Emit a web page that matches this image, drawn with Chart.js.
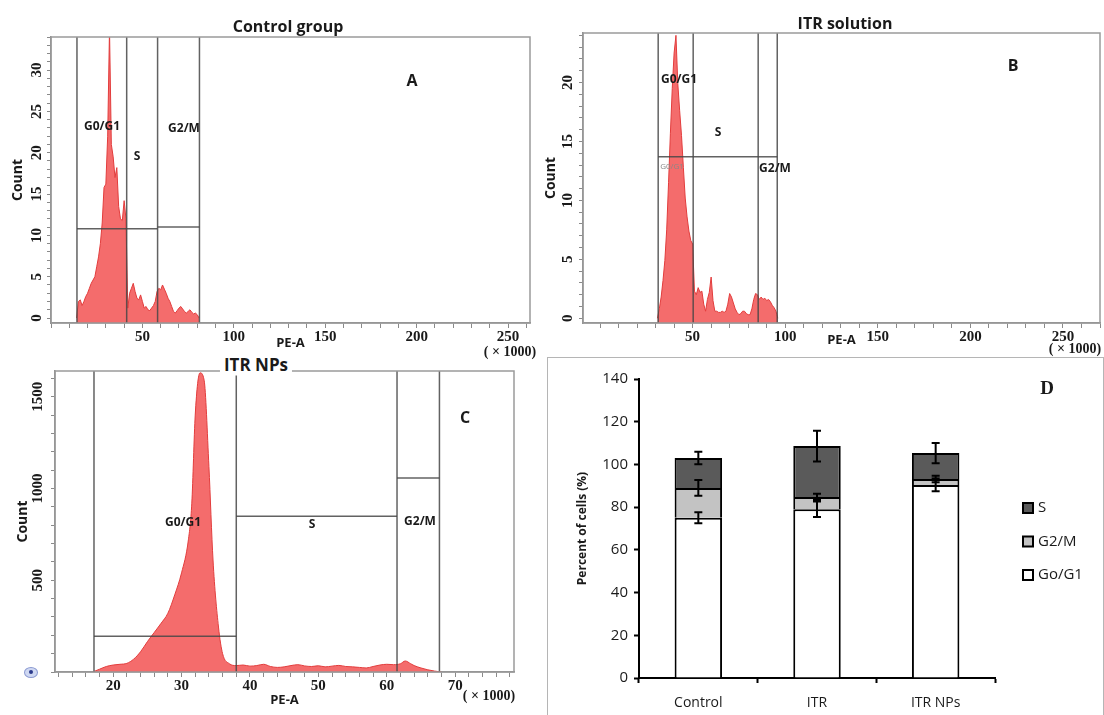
<!DOCTYPE html>
<html>
<head>
<meta charset="utf-8">
<script src="https://cdn.jsdelivr.net/npm/chart.js@4.4.1/dist/chart.umd.min.js"></script>
<style>
  body { margin: 0; width: 1104px; height: 715px; overflow: hidden; position: relative; background: #fff; }
  canvas { position: absolute; }
  .lbl { position: absolute; transform: translate(-50%, -50%); white-space: nowrap; color: #1a1a1a;
         font-family: "Open Sans", sans-serif; font-weight: bold; font-size: 12px; }
  .ttl { font-size: 16px; }
  .num { font-family: "Liberation Serif", serif; font-size: 14px; }
  #boxD { position: absolute; left: 547px; top: 357px; width: 555px; height: 380px; border: 1px solid #b5b5b5; }
  #dot { position: absolute; left: 24px; top: 667px; width: 12px; height: 9px; border-radius: 50%;
         background: #cfd8f2; border: 1px solid #8c9bd2; }
  #dot:after { content: ""; position: absolute; left: 4px; top: 2px; width: 4px; height: 4px; border-radius: 50%; background: #2b3a8c; }
</style>
</head>
<body>
<div id="boxD"></div>
<canvas id="histA" width="540" height="360" style="left:0;top:0"></canvas>
<canvas id="histB" width="564" height="360" style="left:540px;top:0"></canvas>
<canvas id="histC" width="547" height="357" style="left:0;top:358px"></canvas>
<canvas id="barsD" width="557" height="360" style="left:547px;top:355px"></canvas>
<div id="dot"></div>

<div class="lbl ttl" style="left:288px;top:26px">Control group</div>
<div class="lbl ttl" style="left:412px;top:80px">A</div>
<div class="lbl" style="left:102px;top:125px">G0/G1</div>
<div class="lbl" style="left:137px;top:155px">S</div>
<div class="lbl" style="left:184px;top:127px">G2/M</div>
<div class="lbl num" style="left:510px;top:352px">( × 1000)</div>

<div class="lbl ttl" style="left:845px;top:23px">ITR solution</div>
<div class="lbl ttl" style="left:1013px;top:65px">B</div>
<div class="lbl" style="left:679px;top:78px">G0/G1</div>
<div class="lbl" style="left:718px;top:131px">S</div>
<div class="lbl" style="left:775px;top:167px">G2/M</div>
<div class="lbl" style="left:672px;top:165px;font-size:8px;font-weight:normal;color:#888">G0/G1</div>
<div class="lbl num" style="left:1075px;top:349px">( × 1000)</div>

<div class="lbl ttl" style="left:256px;top:364px;font-size:17px;background:#fff;padding:0 4px">ITR NPs</div>
<div class="lbl ttl" style="left:465px;top:417px">C</div>
<div class="lbl" style="left:183px;top:521px">G0/G1</div>
<div class="lbl" style="left:312px;top:523px">S</div>
<div class="lbl" style="left:420px;top:520px">G2/M</div>
<div class="lbl num" style="left:489px;top:696px">( × 1000)</div>

<div class="lbl" style="left:1047px;top:388px;font-family:'Liberation Serif',serif;font-size:19px">D</div>

<script>
Chart.defaults.font.family = '"Open Sans", sans-serif';
Chart.defaults.color = '#1a1a1a';

// A - control group histogram (PE-A x1000, count)
const xA = [14, 15, 16, 17, 18, 19, 20, 21, 22, 23, 24, 25, 26, 27, 28, 29, 30, 31, 32, 33, 34, 35, 36, 37, 38, 39, 40, 41,
    42, 43, 44, 45, 46, 47, 48, 49, 50, 51, 52, 53, 54, 55, 56, 57, 58, 59, 60, 61, 62, 63, 64, 65, 66, 67, 68, 69, 70,
    71, 72, 73, 74, 75, 76, 77, 78, 79, 80, 81];
const countA = [0, 2.0, 2.2, 1.5, 2.0, 2.6, 3.0, 3.6, 4.2, 4.6, 5.0, 6.2, 7.4, 9.0, 11.5, 15.8, 16.2, 22.0, 35.0, 21.0,
    19.5, 17.0, 18.2, 13.5, 12.0, 11.8, 14.2, 12.0, 1.2, 3.0, 3.6, 4.2, 3.2, 2.4, 2.2, 2.8, 2.0, 1.2, 1.4, 1.0, 0.9, 1.2,
    1.5, 2.0, 3.2, 3.6, 3.4, 4.0, 3.5, 3.0, 2.4, 2.0, 1.4, 0.8, 0.6, 0.9, 1.2, 1.4, 1.1, 0.8, 0.6, 0.8, 1.0, 0.7, 0.5,
    0.6, 0.4, 0];
const gatesA = [14.2, 41.4, 58.3, 81.2];
const levelsA = [10.8, 10.8, 11];

// B - ITR solution histogram
const xB = [31, 32, 33, 34, 35, 36, 37, 38, 39, 40, 41, 42, 43, 44, 45, 46, 47, 48, 49, 50, 51, 52, 53, 54, 55, 56, 57,
    58, 59, 60, 61, 62, 63, 64, 65, 66, 67, 68, 69, 70, 71, 72, 73, 74, 75, 76, 77, 78, 79, 80, 81, 82, 83, 84, 85, 86,
    87, 88, 89, 90, 91, 92, 93, 94, 95, 96];
const countB = [0, 0.8, 1.8, 3.2, 4.9, 7.5, 11.5, 15.7, 19.5, 22.5, 24.0, 19.9, 17.6, 15.5, 12.8, 10.2, 8.6, 7.4, 6.6,
    6.3, 2.3, 2.0, 2.6, 2.2, 2.3, 1.2, 0.6, 1.6, 2.2, 3.5, 1.5, 0.6, 0.6, 0.5, 0.5, 0.6, 0.5, 0.6, 1.2, 2.1, 1.8, 1.3,
    0.8, 0.5, 0.3, 0.4, 0.6, 0.6, 0.4, 0.3, 0.3, 0.8, 1.6, 2.1, 2.0, 1.6, 1.8, 1.6, 1.7, 1.5, 1.6, 1.4, 1.1, 0.9, 0.6, 0];
const gatesB = [31.4, 50.3, 85.4, 95.7];
const levelsB = [13.7, 13.7, 13.7];

// C - ITR NPs histogram
const xC = [17, 18, 19, 20, 21, 22, 23, 24, 25, 26, 27, 28, 29, 30, 31, 31.5, 32, 32.7, 33.3, 34, 34.6, 35.4, 36, 37,
    38, 39, 40, 41, 42, 43, 44, 45, 46, 47, 48, 49, 50, 51, 52, 53, 54, 55, 56, 57, 58, 59, 60, 61, 62, 62.7, 63.5, 64,
    65, 66, 67, 68];
const countC = [0, 15, 30, 38, 42, 47, 70, 110, 165, 215, 265, 320, 420, 540, 720, 920, 1400, 1630, 1590, 1120, 610,
    245, 100, 45, 35, 38, 32, 35, 42, 30, 25, 28, 35, 40, 33, 30, 34, 28, 32, 36, 30, 28, 25, 22, 30, 38, 42, 40, 45,
    60, 45, 35, 22, 12, 5, 0];
const gatesC = [17.2, 38.0, 61.5, 67.7];
const levelsC = [195, 849, 1057];

// D - cell cycle distribution (%)
const groups = ['Control', 'ITR', 'ITR NPs'];
const g0g1Pct = [75, 79, 90.4];
const g2mPct = [14, 5.8, 2.8];
const sPct = [14, 23.8, 12.1];
const g0g1Err = [2.6, 3.6, 3.0];
const g2mErr = [3.7, 1.5, 1.5];
const sErr = [2.9, 7.2, 4.7];

// gate rectangles + plot frame
const gatePlugin = {
    id: 'gates',
    afterDatasetsDraw(chart, args, opts) {
        const { ctx, chartArea: a, scales: { x, y } } = chart;
        ctx.save();
        ctx.strokeStyle = 'rgba(70,70,70,0.85)';
        ctx.lineWidth = 1.5;
        opts.levels.forEach((lv, i) => {
            const py = y.getPixelForValue(lv);
            ctx.beginPath();
            ctx.moveTo(x.getPixelForValue(opts.edges[i]), py);
            ctx.lineTo(x.getPixelForValue(opts.edges[i + 1]), py);
            ctx.stroke();
        });
        opts.edges.forEach(e => {
            const px = x.getPixelForValue(e);
            ctx.beginPath();
            ctx.moveTo(px, a.top);
            ctx.lineTo(px, a.bottom);
            ctx.stroke();
        });
        ctx.strokeStyle = '#9a9a9a';
        ctx.strokeRect(a.left, a.top, a.width, a.height);
        ctx.restore();
    }
};

const serifTick = { family: '"Liberation Serif", serif', size: 15, weight: 'bold' };

function histogram(id, xs, counts, gates, levels, s) {
    return new Chart(document.getElementById(id), {
        type: 'line',
        data: {
            datasets: [{
                data: xs.map((v, i) => ({ x: v, y: counts[i] })),
                fill: 'start',
                backgroundColor: 'rgba(243,96,96,0.92)',
                borderColor: '#e23c3c',
                borderWidth: 1,
                pointRadius: 0,
                tension: 0,
                cubicInterpolationMode: s.smooth ? 'monotone' : 'default',
            }]
        },
        options: {
            responsive: false,
            animation: false,
            events: [],
            layout: { padding: s.pad },
            plugins: {
                legend: { display: false },
                tooltip: { enabled: false },
                gates: { edges: gates, levels: levels }
            },
            scales: {
                x: {
                    type: 'linear', min: s.xMin, max: s.xMax,
                    afterFit: sc => { sc.height = s.xH; },
                    border: { color: '#8a8a8a', width: 1.5 },
                    grid: { drawOnChartArea: false, tickLength: 5, color: '#8a8a8a' },
                    ticks: {
                        stepSize: s.xStep, includeBounds: false, autoSkip: false, maxRotation: 0, padding: 0,
                        font: serifTick, color: '#1a1a1a',
                        callback: v => (v > 0 && v % s.xEvery === 0) ? v : ''
                    },
                    title: { display: true, text: 'PE-A', font: { size: 13, weight: 'bold' }, padding: 0 }
                },
                y: {
                    min: s.yMin, max: s.yMax,
                    afterFit: sc => { sc.width = s.yW; },
                    border: { color: '#8a8a8a', width: 1.5 },
                    grid: { drawOnChartArea: false, tickLength: 4, color: '#8a8a8a' },
                    ticks: {
                        stepSize: s.yStep, includeBounds: false, autoSkip: false,
                        minRotation: 90, maxRotation: 90, crossAlign: 'center', padding: s.yPad,
                        font: serifTick, color: '#1a1a1a',
                        callback: v => (v >= s.yFirst && v % s.yEvery === 0) ? v : ''
                    },
                    title: { display: true, text: 'Count', font: { size: 14, weight: 'bold' }, padding: 0 }
                }
            }
        },
        plugins: [gatePlugin]
    });
}

const histA = histogram('histA', xA, countA, gatesA, levelsA, {
    pad: { left: 10, top: 37, right: 10, bottom: 8.6 }, xH: 28.4, yW: 41, yPad: 2.5,
    xMin: 0, xMax: 262, xStep: 10, xEvery: 50,
    yMin: -0.6, yMax: 34, yStep: 1, yEvery: 5, yFirst: 0
});

const histB = histogram('histB', xB, countB, gatesB, levelsB, {
    pad: { left: 3, top: 33, right: 4, bottom: 12.2 }, xH: 24.8, yW: 40, yPad: 3.5,
    xMin: -9.2, xMax: 270, xStep: 10, xEvery: 50,
    yMin: -0.4, yMax: 24.2, yStep: 1, yEvery: 5, yFirst: 0
});

const histC = histogram('histC', xC, countC, gatesC, levelsC, {
    pad: { left: 15, top: 13, right: 33, bottom: 7.2 }, xH: 35.8, yW: 40, yPad: -2,
    xMin: 11.5, xMax: 78.6, xStep: 2, xEvery: 10,
    yMin: 0, yMax: 1640, yStep: 100, yEvery: 500, yFirst: 1, smooth: true
});

// error bars at the top of every stacked segment
const errorBars = {
    id: 'errorBars',
    afterDatasetsDraw(chart) {
        const { ctx, scales: { y } } = chart;
        const sums = groups.map(() => 0);
        ctx.save();
        ctx.strokeStyle = '#000';
        ctx.lineWidth = 2;
        chart.data.datasets.forEach((ds, d) => {
            chart.getDatasetMeta(d).data.forEach((bar, i) => {
                sums[i] += ds.data[i];
                const hi = y.getPixelForValue(sums[i] + ds.errors[i]);
                const lo = y.getPixelForValue(sums[i] - ds.errors[i]);
                ctx.beginPath();
                ctx.moveTo(bar.x, hi); ctx.lineTo(bar.x, lo);
                ctx.moveTo(bar.x - 4, hi); ctx.lineTo(bar.x + 4, hi);
                ctx.moveTo(bar.x - 4, lo); ctx.lineTo(bar.x + 4, lo);
                ctx.stroke();
            });
        });
        ctx.restore();
    }
};

const legendD = {
    id: 'legendD',
    afterDraw(chart, args, o) {
        const ctx = chart.ctx;
        ctx.save();
        ctx.font = '15px "Open Sans", sans-serif';
        ctx.textBaseline = 'middle';
        ctx.lineWidth = 2;
        ctx.strokeStyle = '#000';
        chart.data.datasets.slice().reverse().forEach((ds, i) => {
            const cy = o.top + i * o.gap;
            ctx.fillStyle = ds.backgroundColor;
            ctx.fillRect(o.left, cy - 5, 10, 10);
            ctx.strokeRect(o.left, cy - 5, 10, 10);
            ctx.fillStyle = '#1a1a1a';
            ctx.fillText(ds.label, o.left + 15, cy);
        });
        ctx.restore();
    }
};

const barStyle = { borderColor: '#000', borderWidth: 2, borderSkipped: 'start', categoryPercentage: 1, barPercentage: 0.4 };

const barsD = new Chart(document.getElementById('barsD'), {
    type: 'bar',
    data: {
        labels: groups,
        datasets: [
            Object.assign({ label: 'Go/G1', data: g0g1Pct, errors: g0g1Err, backgroundColor: '#ffffff' }, barStyle),
            Object.assign({ label: 'G2/M', data: g2mPct, errors: g2mErr, backgroundColor: '#c3c3c3' }, barStyle),
            Object.assign({ label: 'S', data: sPct, errors: sErr, backgroundColor: '#5a5a5a' }, barStyle),
        ]
    },
    options: {
        responsive: false,
        animation: false,
        events: [],
        layout: { padding: { left: 28, top: 24, right: 109, bottom: 0 } },
        plugins: {
            legend: { display: false },
            tooltip: { enabled: false },
            legendD: { left: 476, top: 153, gap: 33.5 }
        },
        scales: {
            x: {
                stacked: true,
                afterFit: sc => { sc.height = 37; },
                border: { color: '#000', width: 2 },
                grid: { offset: true, drawOnChartArea: false, tickLength: 5, tickColor: '#000', tickWidth: 2 },
                ticks: { font: { size: 14 }, padding: 12, color: '#1a1a1a' }
            },
            y: {
                stacked: true, min: 0, max: 140,
                afterFit: sc => { sc.width = 64; },
                border: { color: '#000', width: 2 },
                grid: { drawOnChartArea: false, tickLength: 5, tickColor: '#000', tickWidth: 2 },
                ticks: { stepSize: 20, font: { size: 15 }, padding: 6, color: '#1a1a1a' },
                title: { display: true, text: 'Percent of cells (%)', font: { size: 12, weight: 'bold' }, padding: 0 }
            }
        }
    },
    plugins: [errorBars, legendD]
});
</script>
</body>
</html>
